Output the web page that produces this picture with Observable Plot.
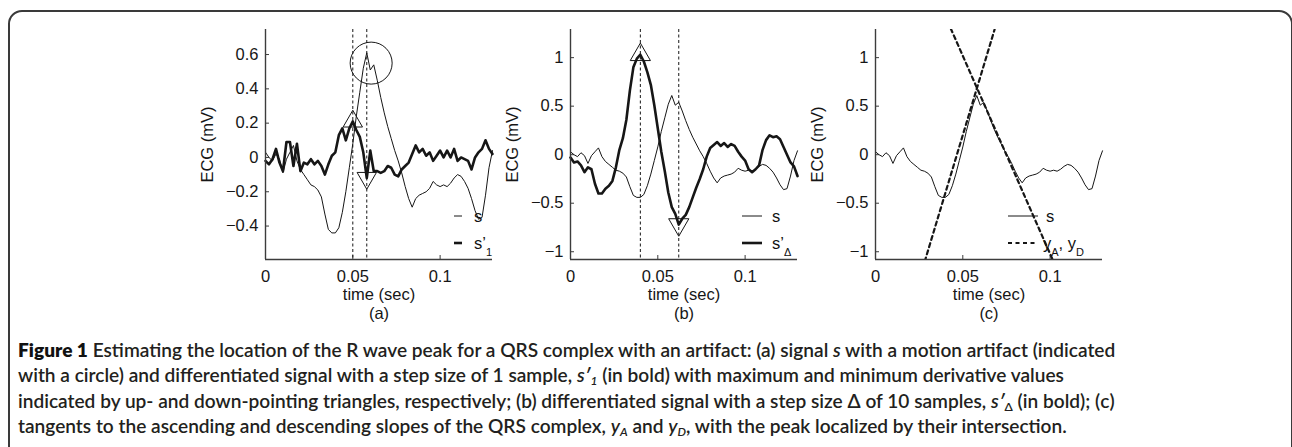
<!DOCTYPE html>
<html><head><meta charset="utf-8">
<script src="https://cdn.jsdelivr.net/npm/d3@7"></script>
<script src="https://cdn.jsdelivr.net/npm/@observablehq/plot@0.6"></script>
<style>
html,body{margin:0;padding:0;background:#fff}
body{width:1292px;height:447px;overflow:hidden;position:relative;font-family:"Liberation Sans",Arial,sans-serif;color:#111}
#frame{position:absolute;left:8px;top:10px;width:1285px;height:480px;border:2px solid #3a3a3a;border-radius:14px;box-sizing:border-box}
.panel{position:absolute;top:10px}
.lg{position:absolute;font-size:16.5px;line-height:16px;white-space:nowrap;color:#111}
.lg sub{font-size:11px;vertical-align:-7px;line-height:0}
#legendLines{position:absolute;left:0;top:0;width:1292px;height:447px;pointer-events:none}
#caption{position:absolute;left:18px;top:337px;font-family:Lato,"Open Sans",sans-serif;font-weight:600;font-size:19.1px;line-height:25.3px;color:#231f20;white-space:nowrap}
#caption b{font-weight:800;color:#111}
#caption sub{font-size:12px;line-height:0;vertical-align:-3px}
</style>
</head><body>
<div id="frame"></div>
<div id="pa" class="panel" style="left:190px"></div>
<div id="pb" class="panel" style="left:495px"></div>
<div id="pc" class="panel" style="left:800px"></div>
<svg id="legendLines"></svg>
<div class="lg" style="left:474px;top:208px">s</div>
<div class="lg" style="left:474px;top:235px">s’<sub>1</sub></div>
<div class="lg" style="left:772px;top:208px">s</div>
<div class="lg" style="left:772px;top:235px">s’<sub>Δ</sub></div>
<div class="lg" style="left:1046px;top:208px">s</div>
<div class="lg" style="left:1043px;top:235px">y<sub>A</sub>, y<sub>D</sub></div>
<div id="caption">
<div><b>Figure 1</b> Estimating the location of the R wave peak for a QRS complex with an artifact: (a) signal <i>s</i> with a motion artifact (indicated</div>
<div>with a circle) and differentiated signal with a step size of 1 sample, <i>s′<sub>1</sub></i> (in bold) with maximum and minimum derivative values</div>
<div>indicated by up- and down-pointing triangles, respectively; (b) differentiated signal with a step size Δ of 10 samples, <i>s′</i><sub>Δ</sub> (in bold); (c)</div>
<div>tangents to the ascending and descending slopes of the QRS complex, <i>y<sub>A</sub></i> and <i>y<sub>D</sub></i>, with the peak localized by their intersection.</div>
</div>
<script>
// ---- data ----
const time = [0,0.002,0.004,0.006,0.008,0.010,0.012,0.014,0.016,0.018,
  0.020,0.022,0.024,0.026,0.028,0.030,0.032,0.034,0.036,0.038,
  0.040,0.042,0.044,0.046,0.048,0.050,0.052,0.054,0.056,0.058,
  0.060,0.062,0.064,0.066,0.068,0.070,0.072,0.074,0.076,0.078,
  0.080,0.082,0.084,0.086,0.088,0.090,0.092,0.094,0.096,0.098,
  0.100,0.102,0.104,0.106,0.108,0.110,0.112,0.114,0.116,0.118,
  0.120,0.122,0.124,0.126,0.128,0.130];
const signalS = [0.03,0.00,-0.02,0.02,-0.01,-0.09,-0.01,0.03,0.07,-0.02,
  -0.07,-0.10,-0.13,-0.16,-0.17,-0.19,-0.23,-0.33,-0.42,-0.44,
  -0.44,-0.41,-0.32,-0.20,-0.06,0.08,0.24,0.38,0.52,0.61,
  0.51,0.54,0.45,0.35,0.26,0.18,0.11,0.04,-0.02,-0.09,
  -0.17,-0.24,-0.29,-0.24,-0.22,-0.21,-0.20,-0.18,-0.14,-0.16,
  -0.17,-0.16,-0.17,-0.15,-0.12,-0.10,-0.11,-0.14,-0.18,-0.24,
  -0.31,-0.36,-0.35,-0.22,-0.06,0.04];
const deriv1 = [-0.02,-0.04,-0.01,0.05,-0.03,-0.08,0.09,0.09,-0.05,0.08,
  -0.08,-0.03,-0.04,-0.01,-0.04,-0.02,-0.05,-0.10,-0.04,0.01,
  0.03,0.13,0.17,0.10,0.17,0.21,0.16,0.12,0.03,-0.12,
  0.04,-0.08,-0.08,-0.09,-0.08,-0.05,-0.06,-0.10,-0.11,-0.07,
  -0.05,-0.03,0.02,0.07,0.03,0.05,0.01,0.03,-0.02,0.01,
  0.04,0.00,0.04,0.00,0.05,-0.02,0.00,-0.01,-0.02,-0.07,
  0.00,0.03,0.05,0.10,0.05,0.02];
const derivDelta = [-0.03,-0.08,-0.07,-0.11,-0.18,-0.13,-0.15,-0.30,-0.40,-0.40,
  -0.35,-0.32,-0.27,-0.13,0.05,0.17,0.36,0.66,0.90,0.99,
  1.03,0.96,0.85,0.72,0.51,0.27,0.03,-0.17,-0.39,-0.54,
  -0.61,-0.72,-0.66,-0.62,-0.54,-0.44,-0.34,-0.25,-0.15,-0.02,
  0.07,0.10,0.13,0.09,0.12,0.08,0.11,0.09,0.03,-0.02,
  -0.06,-0.15,-0.18,-0.15,-0.11,0.05,0.15,0.20,0.18,0.19,
  0.16,0.08,0.00,-0.08,-0.12,-0.22];
const tangentA = [{t:0.0282, v:-1.10}, {t:0.0682, v:1.29}];
const tangentD = [{t:0.0431, v:1.30}, {t:0.1019, v:-1.10}];
const artifactCircle = [{t:0.0605, v:0.55}];
const xTicks = [0, 0.05, 0.1];
const yTicksA = [-0.4, -0.2, 0, 0.2, 0.4, 0.6];
const yTicksBC = [-1, -0.5, 0, 0.5, 1];
const yDomainA = [-0.595, 0.746];
const yDomainBC = [-1.08, 1.29];
const xDomain = [0, 0.13];

// ---- build ----
const rows = time.map((t, i) => ({t, s: signalS[i], d1: deriv1[i], dD: derivDelta[i]}));
const fmt = d => d === 0 ? "0" : String(d).replace("-", "\u2212");
const axisColor = "#3c3c3c";
const ink = "#161616";
const FS = 16.5;

function panel(letter, yDomain, yTicks, marks) {
  return Plot.plot({
    width: 317, height: 319,
    marginLeft: 75, marginRight: 15, marginTop: 19, marginBottom: 70,
    x: {domain: xDomain},
    y: {domain: yDomain},
    style: {fontFamily: "'Liberation Sans', Arial, sans-serif", fontSize: FS + "px", background: "transparent", color: ink, overflow: "visible"},
    marks: [
      Plot.axisY({ticks: yTicks, tickSize: -4, tickPadding: 11, tickFormat: fmt, fontSize: FS, label: "ECG (mV)", labelAnchor: "center", labelArrow: "none", labelOffset: 64, stroke: axisColor}),
      Plot.axisX({ticks: xTicks, tickSize: -4, tickPadding: 15, tickFormat: fmt, fontSize: FS, label: null, stroke: axisColor}),
      ...marks,
      Plot.ruleX([xDomain[0]], {stroke: axisColor, strokeWidth: 1.4}),
      Plot.ruleY([yDomain[0]], {stroke: axisColor, strokeWidth: 1.4}),
      Plot.text(["time (sec)"], {text: d => d, frameAnchor: "bottom", dy: 40, fontSize: FS}),
      Plot.text([`(${letter})`], {text: d => d, frameAnchor: "bottom", dy: 59, fontSize: FS})
    ]
  });
}

const iMax1 = d3.maxIndex(deriv1), iMin1 = d3.minIndex(deriv1);
const iMaxD = d3.maxIndex(derivDelta), iMinD = d3.minIndex(derivDelta);

document.getElementById("pa").append(panel("a", yDomainA, yTicksA, [
  Plot.ruleX([time[iMax1], time[iMin1]], {stroke: ink, strokeWidth: 1, strokeDasharray: "3,2.5"}),
  Plot.line(rows, {x: "t", y: "s", stroke: ink, strokeWidth: 1}),
  Plot.line(rows, {x: "t", y: "d1", stroke: ink, strokeWidth: 2.6}),
  Plot.dot([rows[iMax1]], {x: "t", y: "d1", symbol: "triangle", r: 7.2, stroke: ink, strokeWidth: 1, fill: "none"}),
  Plot.dot([rows[iMin1]], {x: "t", y: "d1", symbol: "triangle", r: 7.2, rotate: 180, stroke: ink, strokeWidth: 1, fill: "none"}),
  Plot.dot(artifactCircle, {x: "t", y: "v", r: 21, stroke: ink, strokeWidth: 1, fill: "none"})
]));

document.getElementById("pb").append(panel("b", yDomainBC, yTicksBC, [
  Plot.ruleX([time[iMaxD], time[iMinD]], {stroke: ink, strokeWidth: 1, strokeDasharray: "3,2.5"}),
  Plot.line(rows, {x: "t", y: "s", stroke: ink, strokeWidth: 1}),
  Plot.line(rows, {x: "t", y: "dD", stroke: ink, strokeWidth: 2.6}),
  Plot.dot([rows[iMaxD]], {x: "t", y: "dD", symbol: "triangle", r: 7.5, stroke: ink, strokeWidth: 1, fill: "none"}),
  Plot.dot([rows[iMinD]], {x: "t", y: "dD", symbol: "triangle", r: 7.5, rotate: 180, stroke: ink, strokeWidth: 1, fill: "none"})
]));

document.getElementById("pc").append(panel("c", yDomainBC, yTicksBC, [
  Plot.line(rows, {x: "t", y: "s", stroke: ink, strokeWidth: 1}),
  Plot.line(tangentA, {x: "t", y: "v", stroke: ink, strokeWidth: 2.2, strokeDasharray: "4,3.5", clip: true}),
  Plot.line(tangentD, {x: "t", y: "v", stroke: ink, strokeWidth: 2.2, strokeDasharray: "4,3.5", clip: true})
]));

// legend sample lines
const lgl = d3.select("#legendLines");
const legendSwatches = [
  {x1: 454, x2: 462, y: 216, w: 1, dash: null},
  {x1: 454, x2: 462, y: 243, w: 2.6, dash: null},
  {x1: 742, x2: 762, y: 216, w: 1, dash: null},
  {x1: 742, x2: 762, y: 243, w: 2.6, dash: null},
  {x1: 1008, x2: 1038, y: 216, w: 1, dash: null},
  {x1: 1008, x2: 1036, y: 243, w: 2.2, dash: "4,3.5"}
];
for (const s of legendSwatches) {
  lgl.append("line").attr("x1", s.x1).attr("x2", s.x2).attr("y1", s.y).attr("y2", s.y)
    .attr("stroke", ink).attr("stroke-width", s.w).attr("stroke-dasharray", s.dash);
}
</script>
</body></html>
